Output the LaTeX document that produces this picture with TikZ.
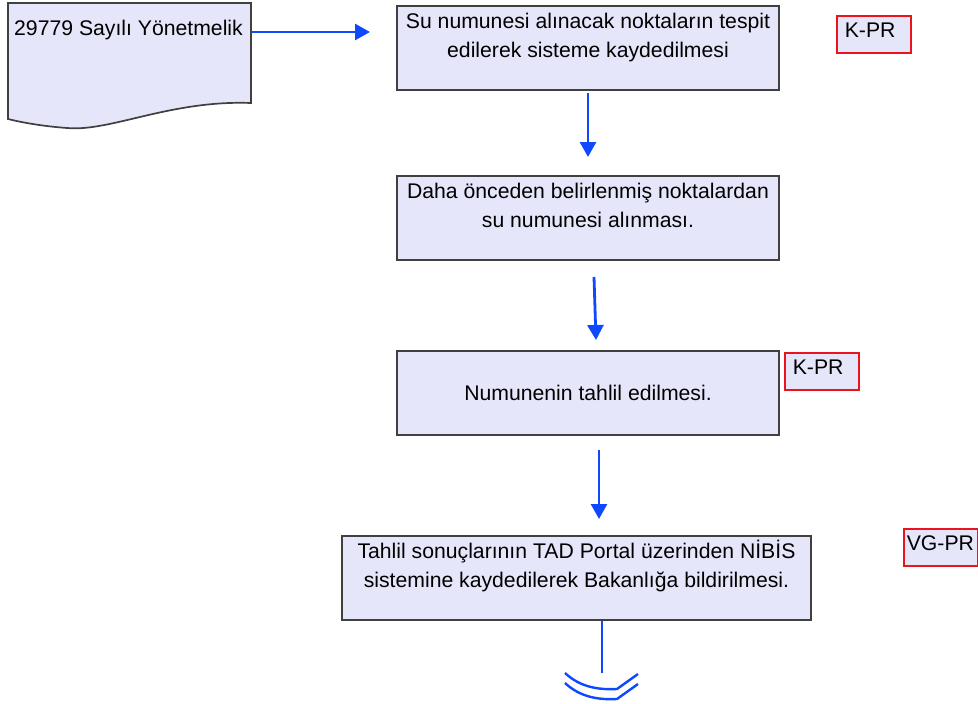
\documentclass[tikz,border=0pt]{standalone}
\usepackage{fontspec}
\setmainfont{Liberation Sans}
\usetikzlibrary{arrows.meta}
\definecolor{lav}{RGB}{230,230,250}
\definecolor{flowblue}{RGB}{16,72,255}
\definecolor{tagred}{RGB}{235,20,30}
\newcommand{\toptext}[2]{\parbox[c][80pt][t]{#1}{\centering\strut #2}}
\begin{document}
\begin{tikzpicture}[x=1pt,y=-1pt,
  font=\fontsize{21.2pt}{29pt}\selectfont,
  box/.style={draw=black!75, fill=lav, line width=1.7pt, inner sep=2pt, minimum width=382pt, minimum height=84pt},
  tag/.style={draw=tagred, fill=lav, line width=1.6pt, anchor=north west, inner xsep=8pt, text width=58pt, align=left, minimum height=37pt, text height=15.2pt, text depth=8pt},
  flow/.style={draw=flowblue, line width=2.8pt, -{Triangle[width=16pt,length=15pt]}},
  link/.style={draw=flowblue, line width=2.8pt}]
\useasboundingbox (0,0) rectangle (978,704);
\draw[draw=black!75, fill=lav, line width=1.7pt] (8,3) -- (251,3) -- (251,103) .. controls (170,100) and (110,132) .. (67,128) .. controls (40,126) and (20,122) .. (8,119) -- cycle;
\node[anchor=base west, inner sep=0] (doc) at (14,35) {29779 Sayılı Yönetmelik};
\node[box] (b1) at (588,48) {\toptext{378pt}{Su numunesi alınacak noktaların tespit\\edilerek sisteme kaydedilmesi}};
\node[box] (b2) at (588,218) {\toptext{378pt}{Daha önceden belirlenmiş noktalardan\\su numunesi alınması.}};
\node[box] (b3) at (588,393) {Numunenin tahlil edilmesi.};
\node[box, minimum width=469pt] (b4) at (576.5,578) {\toptext{465pt}{Tahlil sonuçlarının TAD Portal üzerinden NİBİS\\sistemine kaydedilerek Bakanlığa bildirilmesi.}};
\node[tag] (kpr1) at (836,15) {K-PR};
\node[tag] (kpr2) at (784,352) {K-PR};
\node[tag, inner xsep=3pt, text width=68pt] (vgpr) at (903,528) {VG-PR};
\coordinate (docout) at (251,32);
\coordinate (a0) at (370,32);
\coordinate (a1s) at (588,93);
\coordinate (a1e) at (588,157);
\coordinate (a2s) at (594,277);
\coordinate (a2e) at (596,340);
\coordinate (a3s) at (599,450);
\coordinate (a3e) at (599,519);
\coordinate (a4e) at (602,673);
\draw[flow] (docout) -- (a0);
\draw[flow] (a1s) -- (a1e);
\draw[flow] (a2s) -- (a2e);
\draw[flow] (a3s) -- (a3e);
\draw[link] (b4.south -| a4e) -- (a4e);
\draw[link, line width=2.4pt] (565,673) .. controls (580,687) and (598,690) .. (617,689) -- (638,674);
\draw[link, line width=2.4pt] (565,683) .. controls (580,697) and (598,700) .. (617,699) -- (638,684);
\end{tikzpicture}
\end{document}
